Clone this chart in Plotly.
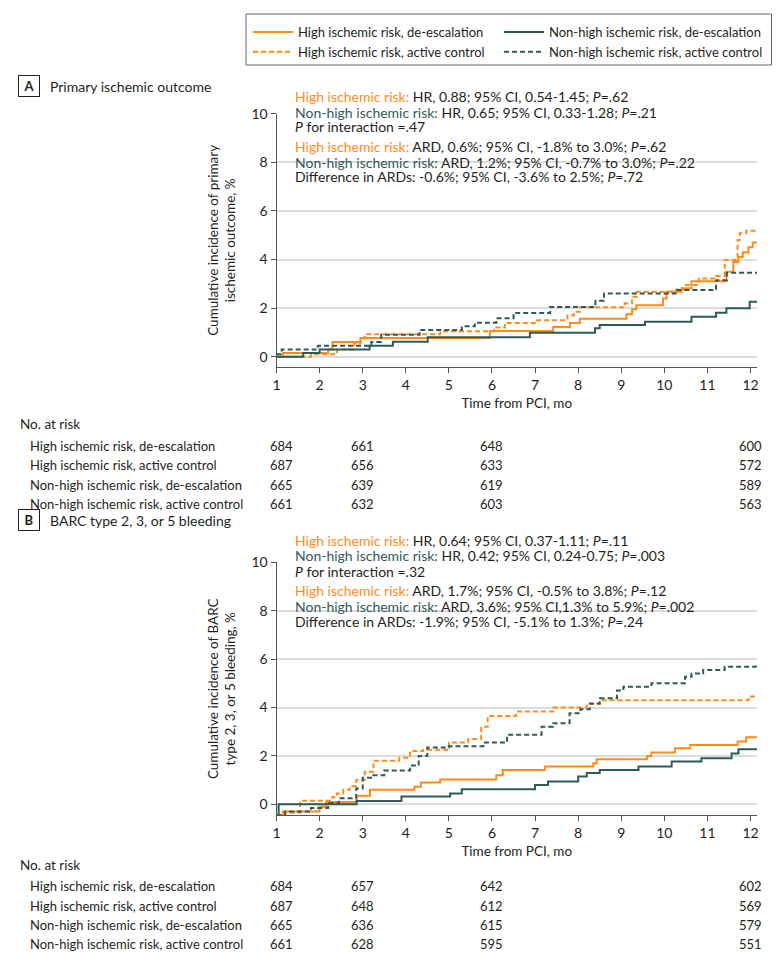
import plotly.graph_objects as go

# The page adds an 8px body margin, so the figure is 8px smaller than the window on each axis.
OFF = 8
W, H = 783 - OFF, 953 - OFF
FONT = "Lato"
ORANGE = "#FF8C1A"
TEAL = "#2F5A5A"
TXT = "#231F20"

series_names = [
    "High ischemic risk, de-escalation",
    "High ischemic risk, active control",
    "Non-high ischemic risk, de-escalation",
    "Non-high ischemic risk, active control",
]

# Panel A: primary ischemic outcome (cumulative incidence, %)
a_hi_deesc_t = [1.0, 1.15, 2.2, 2.3, 2.95, 5.95, 7.42, 7.81, 8.04, 9.12, 9.25, 9.35, 9.97, 10.05, 10.4, 10.63, 11.44, 11.6, 11.72, 11.82, 11.95, 12.05, 12.15]
a_hi_deesc_y = [0, 0.15, 0.3, 0.6, 0.77, 1.06, 1.22, 1.39, 1.56, 1.75, 1.95, 2.12, 2.4, 2.67, 2.82, 3.1, 3.5, 3.9, 4.1, 4.3, 4.5, 4.7, 4.7]
a_hi_ac_t = [1.0, 1.8, 2.4, 2.8, 2.95, 3.05, 4.8, 6.05, 6.3, 7.05, 7.75, 7.9, 8.04, 9.08, 9.25, 9.36, 10.28, 10.5, 10.8, 11.2, 11.4, 11.7, 11.75, 11.9, 12.15]
a_hi_ac_y = [0, 0.1, 0.3, 0.55, 0.75, 0.92, 1.05, 1.2, 1.39, 1.5, 1.7, 1.85, 2.03, 2.2, 2.47, 2.67, 2.77, 2.95, 3.22, 3.32, 3.98, 4.8, 5.08, 5.18, 5.18]
a_nh_deesc_t = [1.0, 1.62, 2.0, 3.16, 3.7, 4.51, 6.88, 8.39, 8.5, 9.55, 10.63, 11.2, 11.44, 11.98, 12.15]
a_nh_deesc_y = [0, 0.15, 0.3, 0.45, 0.62, 0.8, 0.99, 1.17, 1.3, 1.44, 1.64, 1.81, 1.99, 2.26, 2.26]
a_nh_ac_t = [1.0, 1.12, 1.96, 3.2, 3.43, 4.32, 5.3, 5.6, 6.1, 6.5, 7.35, 8.4, 8.6, 10.3, 11.2, 11.45, 12.15]
a_nh_ac_y = [0.1, 0.3, 0.45, 0.6, 0.9, 1.1, 1.25, 1.4, 1.58, 1.8, 2.05, 2.3, 2.6, 2.74, 3.15, 3.45, 3.45]

# Panel B: BARC type 2, 3, or 5 bleeding (cumulative incidence, %)
b_hi_deesc_t = [1.0, 1.15, 2.0, 2.15, 2.86, 3.17, 4.2, 4.35, 4.8, 6.1, 6.25, 7.23, 8.35, 8.43, 9.6, 9.7, 10.25, 10.6, 11.7, 11.9, 12.15]
b_hi_deesc_y = [-0.45, -0.3, -0.1, 0.1, 0.35, 0.6, 0.73, 0.9, 1.03, 1.2, 1.42, 1.56, 1.7, 1.86, 2.0, 2.14, 2.32, 2.45, 2.6, 2.77, 2.77]
b_hi_ac_t = [1.0, 1.2, 1.55, 2.3, 2.4, 2.55, 2.7, 2.85, 3.05, 3.25, 3.85, 4.1, 4.4, 5.0, 5.45, 5.75, 5.9, 6.56, 7.42, 8.2, 8.5, 11.95, 12.15]
b_hi_ac_y = [-0.45, -0.35, 0.15, 0.3, 0.45, 0.6, 0.75, 1.0, 1.35, 1.8, 1.92, 2.2, 2.25, 2.55, 2.7, 3.2, 3.65, 3.83, 4.0, 4.14, 4.3, 4.45, 4.45]
b_nh_deesc_t = [1.0, 1.05, 2.86, 3.9, 5.03, 5.3, 7.0, 7.3, 8.0, 8.2, 8.5, 9.4, 10.17, 10.86, 11.56, 11.72, 12.15]
b_nh_deesc_y = [-0.45, 0, 0.14, 0.32, 0.45, 0.62, 0.8, 0.94, 1.15, 1.29, 1.42, 1.56, 1.77, 1.9, 2.1, 2.27, 2.27]
b_nh_ac_t = [1.0, 1.2, 1.8, 2.2, 2.45, 2.85, 3.0, 3.25, 3.5, 4.1, 4.3, 4.5, 5.0, 5.8, 6.35, 7.15, 7.42, 7.8, 8.05, 8.27, 8.5, 8.9, 9.05, 9.7, 10.48, 10.63, 10.9, 11.4, 12.12, 12.15]
b_nh_ac_y = [-0.45, -0.3, -0.15, 0.05, 0.25, 0.65, 1.1, 1.2, 1.4, 1.6, 2.0, 2.35, 2.4, 2.55, 2.87, 3.2, 3.35, 3.76, 3.93, 4.17, 4.38, 4.7, 4.86, 5.0, 5.27, 5.4, 5.55, 5.68, 5.75, 5.75]

x_ticks = list(range(1, 13))
y_ticks = [0, 2, 4, 6, 8, 10]
risk_months = [1, 3, 6, 12]
a_at_risk = [[684, 661, 648, 600], [687, 656, 633, 572], [665, 639, 619, 589], [661, 632, 603, 563]]
b_at_risk = [[684, 657, 642, 602], [687, 648, 612, 569], [665, 636, 615, 579], [661, 628, 595, 551]]

a_stats = [
    ("High ischemic risk:", ORANGE, " HR, 0.88; 95% CI, 0.54-1.45; <i>P</i>=.62"),
    ("Non-high ischemic risk:", TEAL, " HR, 0.65; 95% CI, 0.33-1.28; <i>P</i>=.21"),
    ("", TXT, "<i>P</i> for interaction =.47"),
    ("High ischemic risk:", ORANGE, " ARD, 0.6%; 95% CI, -1.8% to 3.0%; <i>P</i>=.62"),
    ("Non-high ischemic risk:", TEAL, " ARD, 1.2%; 95% CI, -0.7% to 3.0%; <i>P</i>=.22"),
    ("", TXT, "Difference in ARDs: -0.6%; 95% CI, -3.6% to 2.5%; <i>P</i>=.72"),
]
b_stats = [
    ("High ischemic risk:", ORANGE, " HR, 0.64; 95% CI, 0.37-1.11; <i>P</i>=.11"),
    ("Non-high ischemic risk:", TEAL, " HR, 0.42; 95% CI, 0.24-0.75; <i>P</i>=.003"),
    ("", TXT, "<i>P</i> for interaction =.32"),
    ("High ischemic risk:", ORANGE, " ARD, 1.7%; 95% CI, -0.5% to 3.8%; <i>P</i>=.12"),
    ("Non-high ischemic risk:", TEAL, " ARD, 3.6%; 95% CI,1.3% to 5.9%; <i>P</i>=.002"),
    ("", TXT, "Difference in ARDs: -1.9%; 95% CI, -5.1% to 1.3%; <i>P</i>=.24"),
]

def px(x):
    return (x - OFF) / W

def py(y):
    return 1 - (y - OFF) / H

styles = [(ORANGE, "solid"), (ORANGE, "5px,3px"), (TEAL, "solid"), (TEAL, "5px,3px")]
legend_of = ["legend", "legend", "legend2", "legend2"]

fig = go.Figure()
panelA = [(a_hi_deesc_t, a_hi_deesc_y), (a_hi_ac_t, a_hi_ac_y), (a_nh_deesc_t, a_nh_deesc_y), (a_nh_ac_t, a_nh_ac_y)]
panelB = [(b_hi_deesc_t, b_hi_deesc_y), (b_hi_ac_t, b_hi_ac_y), (b_nh_deesc_t, b_nh_deesc_y), (b_nh_ac_t, b_nh_ac_y)]
for i in range(4):
    t, y = panelA[i]
    c, d = styles[i]
    fig.add_trace(go.Scatter(x=t, y=y, mode="lines", line=dict(color=c, dash=d, width=2, shape="hv"),
                             name=series_names[i], xaxis="x", yaxis="y", legend=legend_of[i]))
for i in range(4):
    t, y = panelB[i]
    c, d = styles[i]
    fig.add_trace(go.Scatter(x=t, y=y, mode="lines", line=dict(color=c, dash=d, width=2, shape="hv"),
                             name=series_names[i], xaxis="x2", yaxis="y2", showlegend=False))

xdom = [px(276.5), px(757)]
axis_common = dict(showline=True, linecolor="#555", linewidth=1, ticks="outside", ticklen=5,
                   tickcolor="#555", tickfont=dict(family=FONT, size=14, color=TXT))
xcommon = dict(axis_common, range=[1, 12.15], tickvals=x_ticks, showgrid=False, zeroline=False,
               title=dict(text="Time from PCI, mo", font=dict(family=FONT, size=13.5, color=TXT), standoff=6))
ycommon = dict(axis_common, tickvals=y_ticks, showgrid=True, gridcolor="#dcdcdc", gridwidth=1.5, zeroline=False)

leg_common = dict(orientation="v", yanchor="top", xanchor="left", borderwidth=0, bgcolor="rgba(0,0,0,0)",
                  itemwidth=40, tracegroupgap=0, font=dict(family=FONT, size=13, color=TXT))

fig.update_layout(
    width=W, height=H, margin=dict(l=0, r=0, t=0, b=0, autoexpand=False),
    paper_bgcolor="white", plot_bgcolor="white",
    font=dict(family=FONT, size=14, color=TXT),
    xaxis=dict(xcommon, domain=xdom, anchor="y"),
    yaxis=dict(ycommon, domain=[py(366.9), py(113.7)], range=[-0.42, 10], anchor="x",
               title=dict(text="Cumulative incidence of primary<br>ischemic outcome, %",
                          font=dict(family=FONT, size=13.5, color=TXT), standoff=12)),
    xaxis2=dict(xcommon, domain=xdom, anchor="y2"),
    yaxis2=dict(ycommon, domain=[py(815.2), py(562.3)], range=[-0.45, 10], anchor="x2",
                title=dict(text="Cumulative incidence of BARC<br>type 2, 3, or 5 bleeding, %",
                           font=dict(family=FONT, size=13.5, color=TXT), standoff=12)),
    legend=dict(leg_common, x=px(248), y=py(17)),
    legend2=dict(leg_common, x=px(499), y=py(17)),
    showlegend=True,
    shapes=[dict(type="rect", xref="paper", yref="paper", x0=px(246), x1=px(771.5), y0=py(65), y1=py(14),
                 line=dict(color="#666", width=1), fillcolor="rgba(0,0,0,0)")],
)

ann = []
def panel_label(letter, title, yc):
    ann.append(dict(text="<b>%s</b>" % letter, x=px(29), y=py(yc), xref="paper", yref="paper",
                    showarrow=False, xanchor="center", yanchor="middle", width=18, height=18,
                    bordercolor="#231F20", borderwidth=1, borderpad=1, font=dict(size=13, color=TXT)))
    ann.append(dict(text=title, x=px(48), y=py(yc), xref="paper", yref="paper", showarrow=False,
                    xanchor="left", yanchor="middle", font=dict(size=14, color=TXT)))

def stats_block(lines, ys):
    for (lab, col, rest), yy in zip(lines, ys):
        txt = ('<span style="color:%s">%s</span>%s' % (col, lab, rest)) if lab else rest
        ann.append(dict(text=txt, x=px(293), y=py(yy), xref="paper", yref="paper", showarrow=False,
                        xanchor="left", yanchor="middle", font=dict(size=14, color=TXT)))

def risk_table(values, y0, rows_y, xaxis):
    ann.append(dict(text="No. at risk", x=px(18), y=py(y0), xref="paper", yref="paper", showarrow=False,
                    xanchor="left", yanchor="middle", font=dict(size=13.5, color=TXT)))
    for name, row, yy in zip(series_names, values, rows_y):
        ann.append(dict(text=name, x=px(28), y=py(yy), xref="paper", yref="paper", showarrow=False,
                        xanchor="left", yanchor="middle", font=dict(size=13, color=TXT)))
        for m, v in zip(risk_months, row):
            ann.append(dict(text=str(v), x=m, y=py(yy), xref=xaxis, yref="paper", showarrow=False,
                            xanchor="center", yanchor="middle", xshift=5 if m == 1 else 0,
                            font=dict(size=13, color=TXT)))

panel_label("A", "Primary ischemic outcome", 86)
panel_label("B", "BARC type 2, 3, or 5 bleeding", 520)
stats_block(a_stats, [97, 112, 127, 146, 162, 177])
stats_block(b_stats, [540, 555, 571, 590, 606, 621])
risk_table(a_at_risk, 424, [446, 465, 485, 504], "x")
risk_table(b_at_risk, 865, [886, 906, 925, 944], "x2")
fig.update_layout(annotations=ann)

fig.write_html("out.html")
